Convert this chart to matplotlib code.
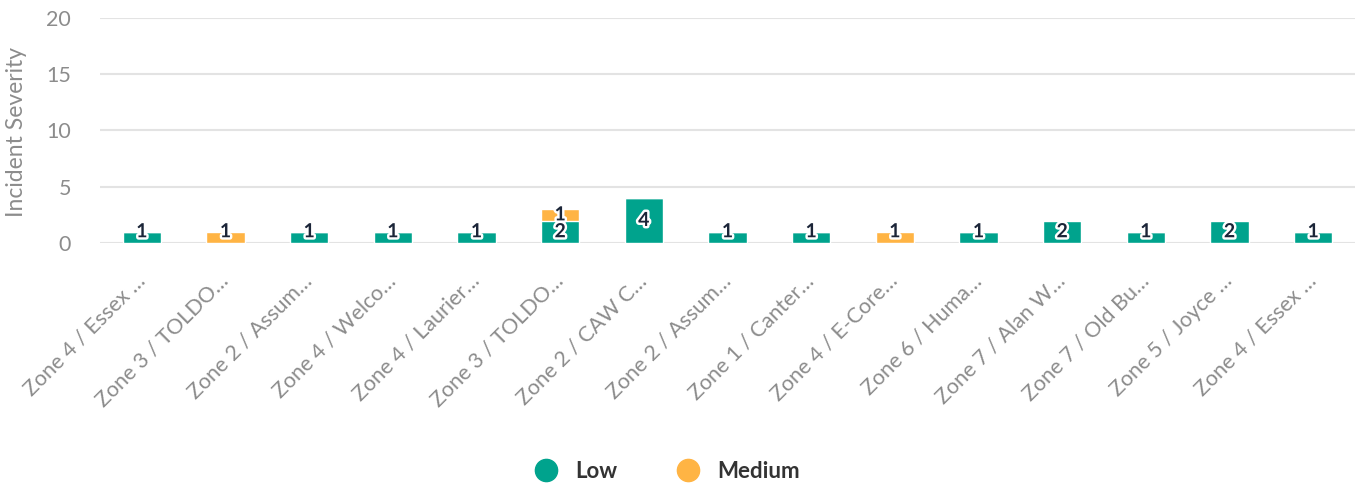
import numpy as np
import matplotlib
matplotlib.use('Agg')
from matplotlib import pyplot as plt
import matplotlib.patheffects as pe
from matplotlib.lines import Line2D
import matplotlib.transforms as mtrans

plt.rcParams['font.family'] = ['Lato', 'DejaVu Sans']

categories = ["Zone 4 / Essex …", "Zone 3 / TOLDO…", "Zone 2 / Assum…", "Zone 4 / Welco…",
              "Zone 4 / Laurier…", "Zone 3 / TOLDO…", "Zone 2 / CAW C…", "Zone 2 / Assum…",
              "Zone 1 / Canter…", "Zone 4 / E-Core…", "Zone 6 / Huma…", "Zone 7 / Alan W…",
              "Zone 7 / Old Bu…", "Zone 5 / Joyce …", "Zone 4 / Essex …"]
low = [1, 0, 1, 1, 1, 2, 4, 1, 1, 0, 1, 2, 1, 2, 1]
medium = [0, 1, 0, 0, 0, 1, 0, 0, 0, 1, 0, 0, 0, 0, 0]

low_color = '#00a38d'
med_color = '#ffb444'
grid_color = '#e3e3e3'
tick_color = '#8c8c8c'

fig = plt.figure(figsize=(13.62, 4.83), dpi=100)
ax = fig.add_axes([100 / 1362, 1 - 243 / 483, 1255 / 1362, 225 / 483])

x = np.arange(len(categories))
w = 0.46
low_bars = ax.bar(x, low, width=w, color=low_color, edgecolor='white', linewidth=1.0, zorder=3)
med_bars = ax.bar(x, medium, width=w, bottom=low, color=med_color, edgecolor='white', linewidth=1.0, zorder=3)

# labels sit in the middle of each segment, but never drop below the plot floor
outline = [pe.withStroke(linewidth=3.5, foreground='white')]
for vals, bottoms in [(low, [0] * len(low)), (medium, low)]:
    for xi, v, b in zip(x, vals, bottoms):
        if v > 0:
            ax.text(xi, max(b + v / 2, 1.0), str(v), ha='center', va='center', fontsize=14,
                    fontweight='bold', color='#1b2538', path_effects=outline, zorder=5)

ax.set_xlim(-0.5, len(categories) - 0.5)
ax.set_ylim(0, 20)
ax.set_yticks([0, 5, 10, 15, 20])
ax.yaxis.grid(True, color=grid_color, linewidth=1.5, zorder=0)
ax.set_axisbelow(True)
for s in ax.spines.values():
    s.set_visible(False)
ax.tick_params(axis='y', length=0, pad=21, labelsize=15.5, labelcolor=tick_color)
ax.tick_params(axis='x', length=0)
for lab in ax.get_yticklabels():
    lab.set_horizontalalignment('right')

ax.set_xticks(x)
ax.set_xticklabels(categories, rotation=45, ha='right', va='center', rotation_mode='anchor',
                   fontsize=15.5, color=tick_color)
offset = mtrans.ScaledTranslation(0 / 100, -30 / 100, fig.dpi_scale_trans)
for lab in ax.get_xticklabels():
    lab.set_transform(lab.get_transform() + offset)

fig.text(17 / 1362, 1 - 132 / 483, 'Incident Severity', rotation=90, ha='center', va='center',
         fontsize=16.5, color=tick_color)

handles = [Line2D([], [], marker='o', linestyle='', markersize=16, color=low_color),
           Line2D([], [], marker='o', linestyle='', markersize=16, color=med_color)]
leg = fig.legend(handles, ['Low', 'Medium'], loc='center', bbox_to_anchor=(0.486, 1 - 471 / 483),
                 ncol=2, frameon=False, fontsize=16, handletextpad=0.3, columnspacing=2.2)
for t in leg.get_texts():
    t.set_fontweight('bold')
    t.set_color('#333333')

fig.savefig('out.png', dpi=100)
